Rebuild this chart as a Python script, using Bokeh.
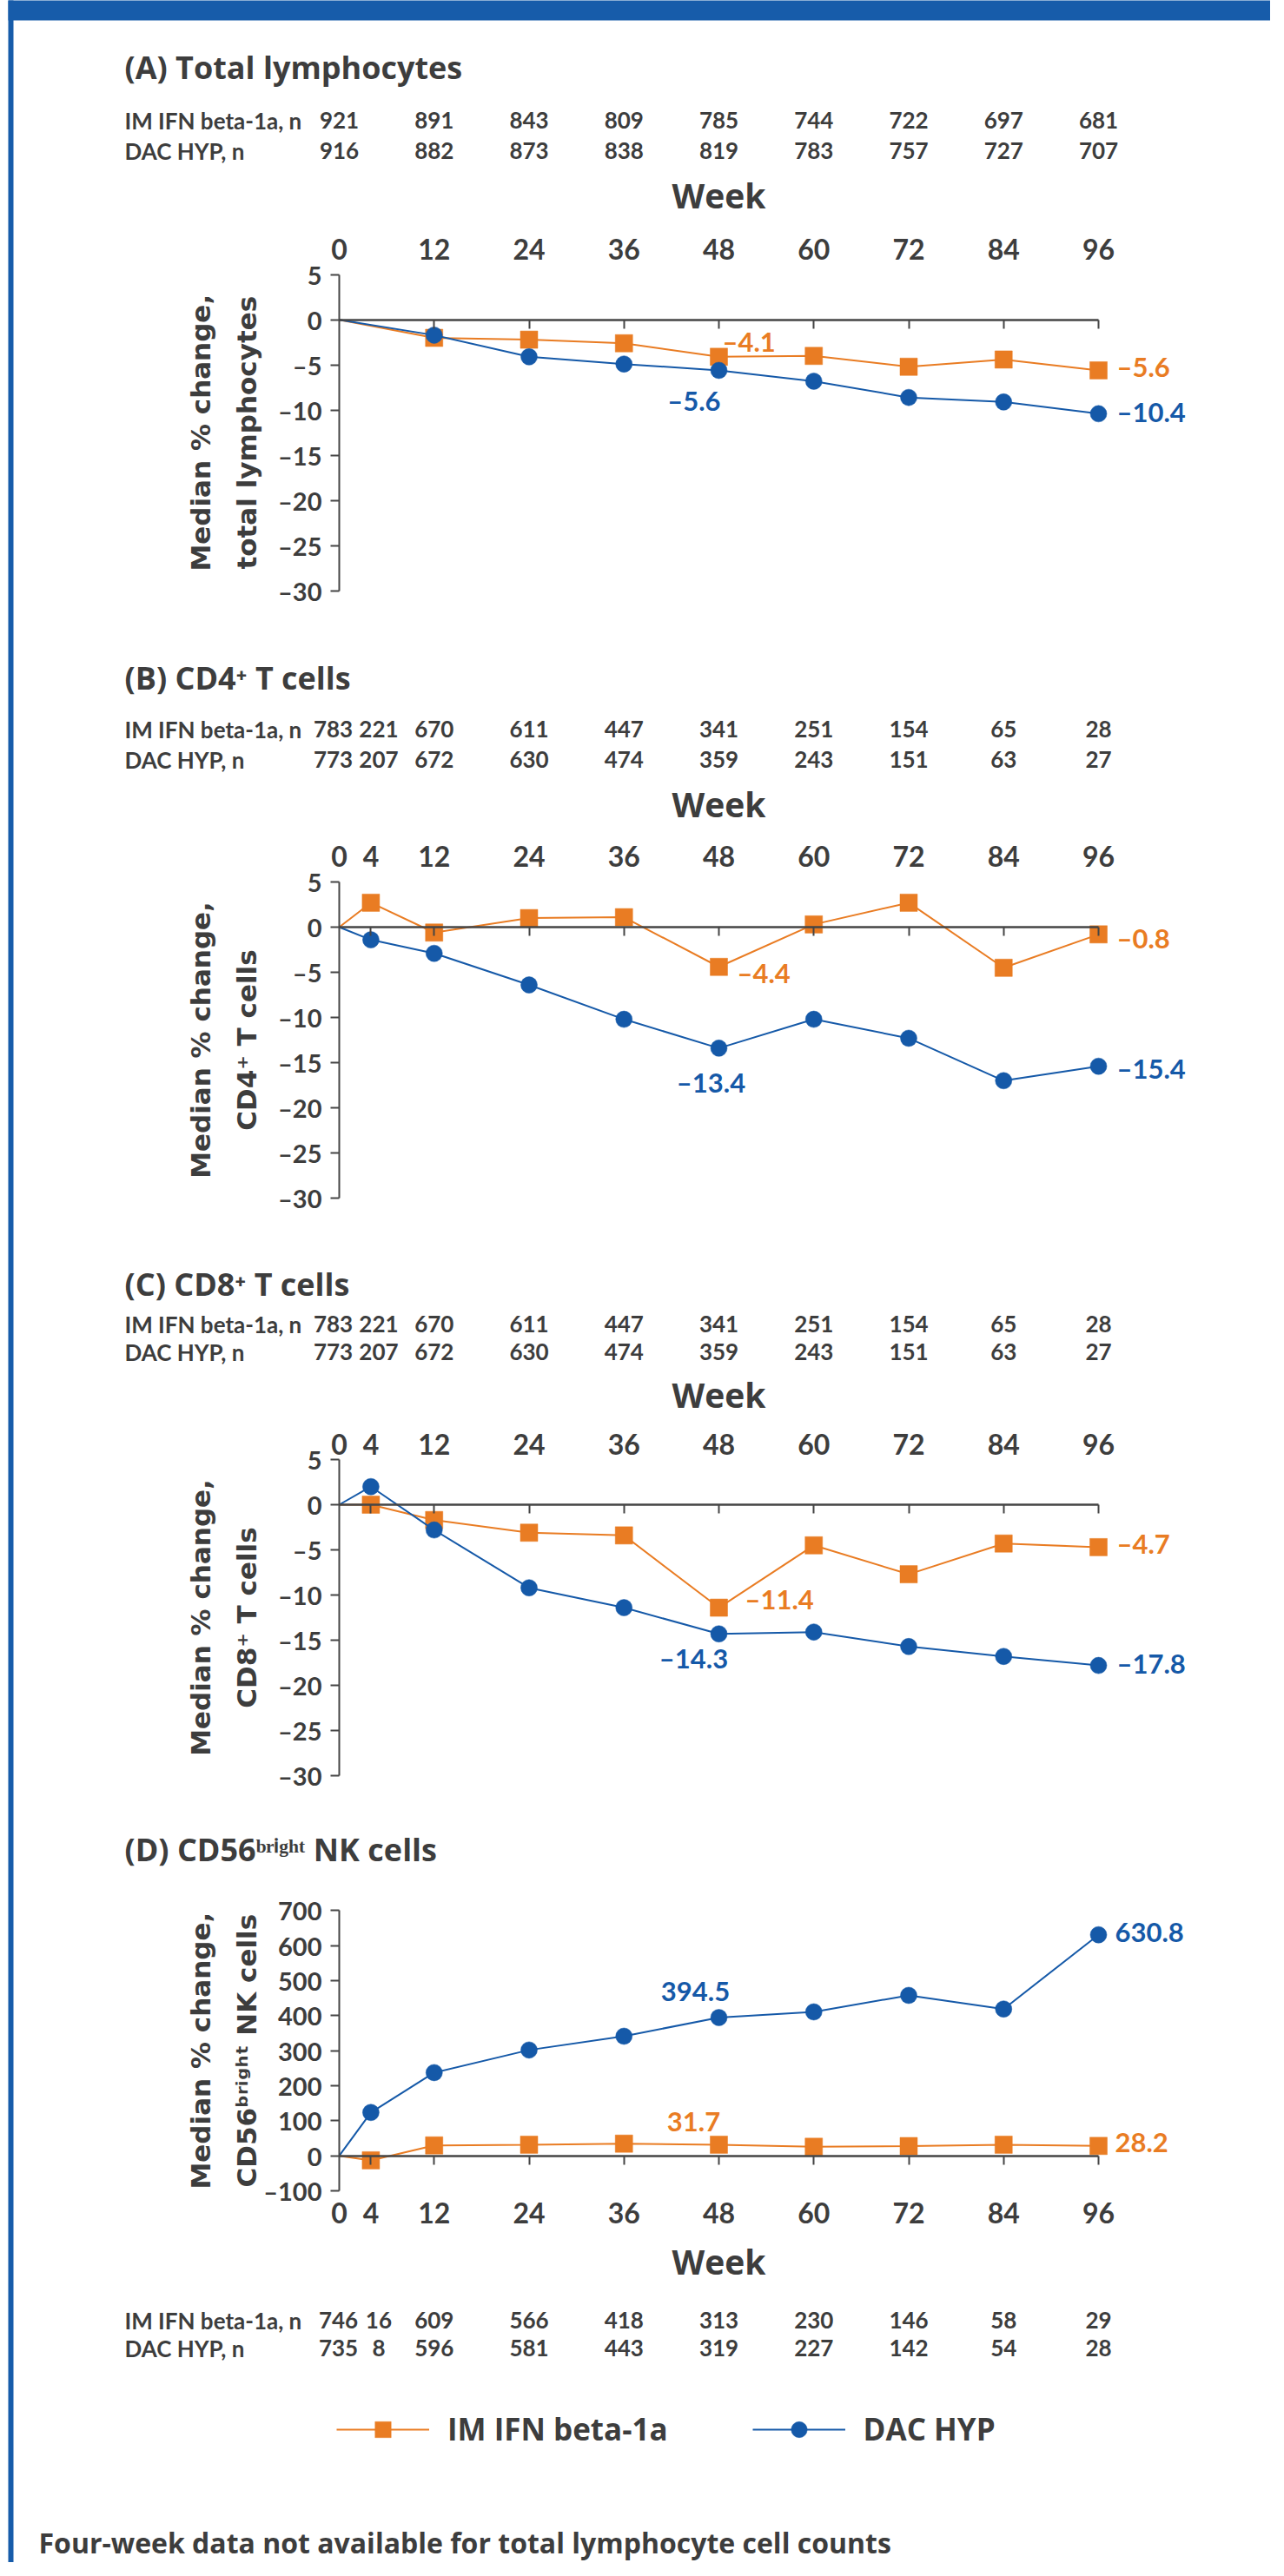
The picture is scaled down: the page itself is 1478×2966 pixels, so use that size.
import math
from bokeh.plotting import figure
from bokeh.models import Range1d, LinearAxis, FixedTicker, CustomJSTickFormatter
from bokeh.embed import file_html
from bokeh.resources import INLINE
from bokeh.core.properties import value

# ---------------- data ----------------
weeks_A = [0, 12, 24, 36, 48, 60, 72, 84, 96]
weeks_BCD = [0, 4, 12, 24, 36, 48, 60, 72, 84, 96]

A_ifn = [0, -2.0, -2.2, -2.6, -4.1, -4.0, -5.2, -4.4, -5.6]
A_dac = [0, -1.7, -4.1, -4.9, -5.6, -6.8, -8.6, -9.1, -10.4]
B_ifn = [0, 2.7, -0.6, 1.0, 1.1, -4.4, 0.3, 2.7, -4.5, -0.8]
B_dac = [0, -1.4, -2.9, -6.4, -10.2, -13.4, -10.2, -12.3, -17.0, -15.4]
C_ifn = [0, 0.0, -1.7, -3.1, -3.4, -11.4, -4.5, -7.7, -4.3, -4.7]
C_dac = [0, 2.0, -2.8, -9.2, -11.4, -14.3, -14.1, -15.7, -16.8, -17.8]
D_ifn = [0, -12.9, 29.7, 31.7, 34.7, 31.7, 25.8, 27.8, 31.7, 28.2]
D_dac = [0, 123.7, 237.4, 301.9, 341.3, 394.5, 410.7, 457.8, 418.9, 630.8]

A_n_ifn = [921, 891, 843, 809, 785, 744, 722, 697, 681]
A_n_dac = [916, 882, 873, 838, 819, 783, 757, 727, 707]
B_n_ifn = [783, 221, 670, 611, 447, 341, 251, 154, 65, 28]
B_n_dac = [773, 207, 672, 630, 474, 359, 243, 151, 63, 27]
C_n_ifn = [783, 221, 670, 611, 447, 341, 251, 154, 65, 28]
C_n_dac = [773, 207, 672, 630, 474, 359, 243, 151, 63, 27]
D_n_ifn = [746, 16, 609, 566, 418, 313, 230, 146, 58, 29]
D_n_dac = [735, 8, 596, 581, 443, 319, 227, 142, 54, 28]

titles = ["(A) Total lymphocytes", "(B) CD4\u207a T cells", "(C) CD8\u207a T cells",
          "(D) CD56\u1d47\u02b3\u2071\u1d4d\u02b0\u1d57 NK cells"]
ylabels = [["Median % change,", "total lymphocytes"],
           ["Median % change,", "CD4\u207a T cells"],
           ["Median % change,", "CD8\u207a T cells"],
           ["Median % change,", "CD56\u1d47\u02b3\u2071\u1d4d\u02b0\u1d57 NK cells"]]
row_names = ["IM IFN beta-1a, n", "DAC HYP, n"]
series_names = ["IM IFN beta-1a", "DAC HYP"]
footnote = "Four-week data not available for total lymphocyte cell counts"

# ---------------- style ----------------
W = 1462
H = 2950
TOP_REF = 8
FONT = "Lato"
FONT2 = "Open Sans"
TXT = "#3d3d3d"
AXC = "#454545"
ORANGE = "#E97C23"
BLUE = "#1559A8"
FRAME = "#175CAA"
X0_REF = 398.0
X96_REF = 1272.0
KX = (X96_REF - X0_REF) / 96.0


def px_x(rx):
    return (rx - X0_REF) / KX


def fmt(v):
    return f"{v:.1f}".replace("-", "\u2013")


panels = [
    dict(zero=375.7, ppu=10.4, ymin=-30, ymax=5, ystep=5, weeks=weeks_A,
         ifn=A_ifn, dac=A_dac, n_ifn=A_n_ifn, n_dac=A_n_dac, title_y=85, rows=(146, 181),
         week_y=232, side="above", standoff=17, w0off=0,
         ann=[("ifn", 48, 4, -18, "left"), ("dac", 48, 2, 35, "right"),
              ("ifn", 96, 21, -4, "left"), ("dac", 96, 21, -2, "left")]),
    dict(zero=1075.0, ppu=10.4, ymin=-30, ymax=5, ystep=5, weeks=weeks_BCD,
         ifn=B_ifn, dac=B_dac, n_ifn=B_n_ifn, n_dac=B_n_dac, title_y=788, rows=(847, 882),
         week_y=933, side="above", standoff=18, w0off=-7,
         ann=[("ifn", 48, 21, 7, "left"), ("ifn", 96, 21, 4, "left"),
              ("dac", 48, -9, 39, "center"), ("dac", 96, 21, 2, "left")]),
    dict(zero=1740.0, ppu=10.4, ymin=-30, ymax=5, ystep=5, weeks=weeks_BCD,
         ifn=C_ifn, dac=C_dac, n_ifn=C_n_ifn, n_dac=C_n_dac, title_y=1486, rows=(1532, 1564),
         week_y=1613, side="above", standoff=6, w0off=-7,
         ann=[("ifn", 48, 30, -10, "left"), ("ifn", 96, 21, -4, "left"),
              ("dac", 48, -29, 28, "center"), ("dac", 96, 21, -3, "left")]),
    dict(zero=2489.7, ppu=0.4035, ymin=-100, ymax=700, ystep=100, weeks=weeks_BCD,
         ifn=D_ifn, dac=D_dac, n_ifn=D_n_ifn, n_dac=D_n_dac, title_y=2137, rows=(2679, 2711),
         week_y=2611, side="below", standoff=13, w0off=-1, legend=True,
         ann=[("dac", 48, -27, -30, "center"), ("dac", 96, 19, -3, "left"),
              ("ifn", 48, -29, -26, "center"), ("ifn", 96, 19, -4, "left")]),
]

NEG_FMT = "return tick < 0 ? '\\u2013' + Math.abs(tick) : String(tick);"


def yconv(c):
    return lambda ry: (c["zero"] - ry) / c["ppu"]


def yrange(c):
    f = yconv(c)
    return Range1d(f(TOP_REF + H), f(TOP_REF))


names = ["default", "pB", "pC", "pD"]

p = figure(width=W, height=H, output_backend="svg", toolbar_location=None,
           x_range=Range1d(px_x(TOP_REF), px_x(TOP_REF + W)),
           y_range=yrange(panels[0]),
           x_axis_type=None, y_axis_type=None, min_border=0,
           outline_line_color=None, background_fill_color="white",
           border_fill_color="white", title_location=None)
p.extra_y_ranges = {names[i]: yrange(panels[i]) for i in range(1, 4)}

# frame decoration: left rule and top bar (drawn on panel A's scale)
fA = yconv(panels[0])
p.quad(left=[px_x(17)], right=[px_x(23)], top=[fA(0)], bottom=[fA(TOP_REF + H + 20)],
       fill_color=FRAME, line_color=None)
p.quad(left=[px_x(17)], right=[px_x(TOP_REF + W + 20)], top=[fA(0)], bottom=[fA(31)],
       fill_color=FRAME, line_color=None)


def build(i, c):
    rn = names[i]
    px_y = yconv(c)
    weeks = c["weeks"]

    def txt(xs, ys, texts, size, color=TXT, align="left", baseline="middle", font=FONT,
            angle=0.0, xoff=0, yoff=0):
        p.text(x=xs, y=ys, text=texts, text_font=value(font), text_font_style="bold",
               text_font_size=value(size), text_color=color, text_align=align,
               text_baseline=baseline, angle=angle, x_offset=xoff, y_offset=yoff,
               y_range_name=rn)

    # y axis at week 0
    yt = list(range(c["ymin"], c["ymax"] + 1, c["ystep"]))
    yax = LinearAxis(y_range_name=rn, fixed_location=0, bounds=(c["ymin"], c["ymax"]),
                     ticker=FixedTicker(ticks=yt), formatter=CustomJSTickFormatter(code=NEG_FMT))
    yax.axis_line_color = AXC
    yax.axis_line_width = 2
    yax.major_tick_line_color = AXC
    yax.major_tick_line_width = 2
    yax.major_tick_in = 0
    yax.major_tick_out = 10
    yax.minor_tick_line_color = None
    yax.major_label_standoff = 10
    yax.major_label_text_font = FONT
    yax.major_label_text_font_style = "bold"
    yax.major_label_text_font_size = "29px"
    yax.major_label_text_color = TXT
    p.add_layout(yax, "left")

    # zero line with ticks
    xz = LinearAxis(y_range_name=rn, fixed_location=0, bounds=(0, 96),
                    ticker=FixedTicker(ticks=weeks[1:]),
                    formatter=CustomJSTickFormatter(code="return '';"))
    xz.axis_line_color = AXC
    xz.axis_line_width = 2.5
    xz.major_tick_line_color = AXC
    xz.major_tick_line_width = 2
    xz.major_tick_in = 0
    xz.major_tick_out = 10
    xz.minor_tick_line_color = None
    xz.major_label_text_font_size = "1px"
    p.add_layout(xz, "below")

    # week tick labels (top or bottom of the panel)
    loc = c["ymax"] if c["side"] == "above" else c["ymin"]
    xt = LinearAxis(y_range_name=rn, fixed_location=loc, ticker=FixedTicker(ticks=weeks))
    xt.axis_line_color = None
    xt.major_tick_line_color = None
    xt.minor_tick_line_color = None
    xt.major_tick_in = 0
    xt.major_tick_out = 0
    xt.major_label_standoff = c["standoff"]
    xt.major_label_text_font = FONT
    xt.major_label_text_font_style = "bold"
    xt.major_label_text_font_size = "32px"
    xt.major_label_text_color = TXT
    p.add_layout(xt, c["side"])

    # series
    leg = c.get("legend", False)
    kw1 = dict(legend_label=series_names[0]) if leg else {}
    kw2 = dict(legend_label=series_names[1]) if leg else {}
    p.line(weeks, c["ifn"], line_color=ORANGE, line_width=2, y_range_name=rn, **kw1)
    p.scatter(weeks[1:], c["ifn"][1:], marker="square", size=20, fill_color=ORANGE,
              line_color=ORANGE, line_width=0.5, y_range_name=rn, **kw1)
    p.line(weeks, c["dac"], line_color=BLUE, line_width=2, y_range_name=rn, **kw2)
    p.scatter(weeks[1:], c["dac"][1:], marker="circle", size=19, fill_color=BLUE,
              line_color=BLUE, line_width=0.5, y_range_name=rn, **kw2)

    # value annotations
    for key, wk, dx, dy, al in c["ann"]:
        v = c[key][weeks.index(wk)]
        txt([wk], [v], [fmt(v)], "31px", color=ORANGE if key == "ifn" else BLUE,
            align=al, xoff=dx, yoff=dy)

    # title
    txt([px_x(151)], [px_y(c["title_y"])], [titles[i]], "36px", font=FONT2)

    # n rows
    offs = [c["w0off"] if w == 0 else (9 if w == 4 else 0) for w in weeks]
    for r, (name, ns) in enumerate(zip(row_names, [c["n_ifn"], c["n_dac"]])):
        ry = px_y(c["rows"][r])
        txt([px_x(151)], [ry], [name], "26px")
        txt(weeks, [ry] * len(weeks), [str(n) for n in ns], "26px", align="center", xoff=offs)

    # Week label
    txt([48], [px_y(c["week_y"])], ["Week"], "39px", align="center", font=FONT2)

    # y label (two rotated lines)
    ymid = (c["ymin"] + c["ymax"]) / 2.0
    for line_text, bx in zip(ylabels[i], [238, 291]):
        txt([px_x(bx)], [ymid], [line_text], "31px", align="center", baseline="alphabetic",
            font="DejaVu Sans", angle=math.pi / 2)

    if leg:
        txt([px_x(52)], [px_y(2935)], [footnote], "32px", font=FONT2)


for i, c in enumerate(panels):
    build(i, c)

lg = p.legend[0]
lg.location = (387, 130)
lg.orientation = "horizontal"
lg.glyph_width = 107
lg.glyph_height = 46
lg.label_standoff = 21
lg.spacing = 97
lg.padding = 0
lg.margin = 0
lg.border_line_color = None
lg.background_fill_alpha = 0
lg.label_text_font = FONT2
lg.label_text_font_style = "bold"
lg.label_text_font_size = "35px"
lg.label_text_color = TXT

open("out.html", "w").write(file_html(p, INLINE))
